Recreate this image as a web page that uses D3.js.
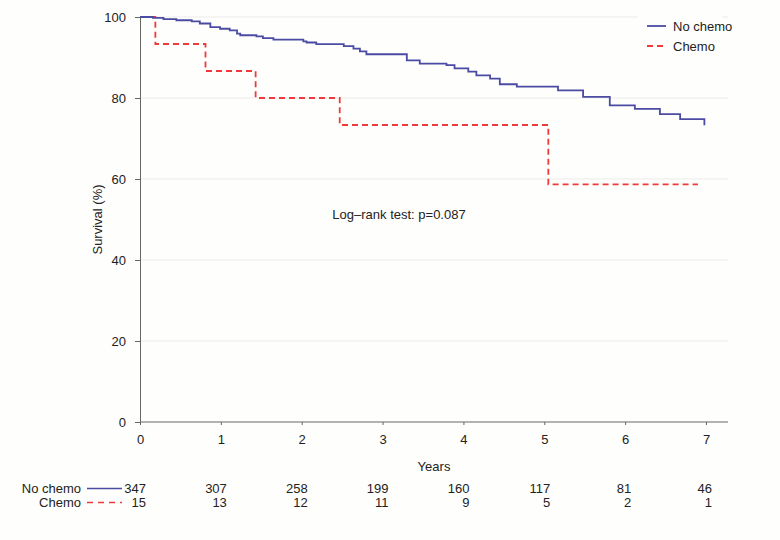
<!DOCTYPE html>
<html>
<head>
<meta charset="utf-8">
<script src="https://cdn.jsdelivr.net/npm/d3@7"></script>
<style>
  html, body { margin: 0; padding: 0; background: #fefefc; }
  svg { display: block; font-family: "Liberation Sans", Arial, Helvetica, sans-serif; }
</style>
</head>
<body>
<svg id="chart" width="780" height="540"></svg>
<script>
// ---- Data ----
const yTicks = [0, 20, 40, 60, 80, 100];
const xTicks = [0, 1, 2, 3, 4, 5, 6, 7];
const groups = ["No chemo", "Chemo"];

const noChemoTimes = [0, 0.16, 0.29, 0.45, 0.64, 0.74, 0.87, 0.99, 1.11, 1.20, 1.24, 1.44, 1.52, 1.65, 2.02, 2.06, 2.18, 2.52, 2.64, 2.72, 2.80, 3.30, 3.46, 3.79, 3.89, 4.06, 4.16, 4.33, 4.45, 4.66, 5.17, 5.48, 5.81, 6.12, 6.43, 6.68, 6.98];
const noChemoSurv  = [100, 99.8, 99.5, 99.2, 98.9, 98.4, 97.5, 97.1, 96.7, 95.9, 95.5, 95.2, 94.8, 94.4, 94.0, 93.7, 93.3, 92.8, 92.2, 91.5, 90.8, 89.3, 88.5, 88.1, 87.3, 86.5, 85.6, 84.8, 83.4, 82.8, 81.9, 80.3, 78.2, 77.3, 76.0, 74.8, 73.3];

const chemoTimes = [0, 0.19, 0.81, 1.43, 2.47, 5.05, 6.90];
const chemoSurv  = [100, 93.33, 86.67, 80, 73.33, 58.67, 58.67];

const atRiskNoChemo = [347, 307, 258, 199, 160, 117, 81, 46];
const atRiskChemo   = [15, 13, 12, 11, 9, 5, 2, 1];

const pText = "Log\u2013rank test: p=0.087";

// ---- Layout ----
const svg = d3.select("#chart");
const blue = "#4b4ba3";
const red = "#ee3a3a";
const x = d3.scaleLinear().domain([0, 7]).range([140, 706]);
const xAxisEnd = 728;
const y = d3.scaleLinear().domain([0, 100]).range([422, 17]);

// gridlines
svg.append("g").selectAll("line").data(yTicks.filter(d => d > 0)).join("line")
  .attr("x1", x(0)).attr("x2", xAxisEnd)
  .attr("y1", d => y(d)).attr("y2", d => y(d))
  .attr("stroke", "#ebebe8").attr("stroke-width", 1);

// y axis
const yAxis = svg.append("g").attr("transform", `translate(${x(0)},0)`)
  .call(d3.axisLeft(y).tickValues(yTicks).tickFormat(d3.format("d")).tickSize(5).tickPadding(9));
yAxis.select(".domain").attr("stroke", "#666");
yAxis.selectAll(".tick line").attr("stroke", "#666");
yAxis.selectAll("text").attr("font-size", 13).attr("fill", "#222")
  .attr("font-family", "Liberation Sans, Arial, sans-serif");

// x axis
const xAxisG = svg.append("g").attr("transform", `translate(0,${y(0)})`)
  .call(d3.axisBottom(x).tickValues(xTicks).tickFormat(d3.format("d")).tickSize(3).tickPadding(10).tickSizeOuter(0));
xAxisG.select(".domain").attr("d", `M${x(0)},0H${xAxisEnd}`).attr("stroke", "#666");
xAxisG.selectAll(".tick line").attr("stroke", "#666");
xAxisG.selectAll("text").attr("font-size", 13).attr("fill", "#222")
  .attr("font-family", "Liberation Sans, Arial, sans-serif");

// axis titles
svg.append("text").attr("x", (x(0) + xAxisEnd) / 2).attr("y", 471)
  .attr("text-anchor", "middle").attr("font-size", 13).attr("fill", "#222").text("Years");
svg.append("text")
  .attr("transform", `translate(102,${(y(0) + y(100)) / 2}) rotate(-90)`)
  .attr("text-anchor", "middle").attr("font-size", 13).attr("fill", "#222").text("Survival (%)");

// curves
const line = d3.line().x(d => x(d[0])).y(d => y(d[1])).curve(d3.curveStepAfter);
const noChemo = noChemoTimes.map((t, i) => [t, noChemoSurv[i]]);
const chemo = chemoTimes.map((t, i) => [t, chemoSurv[i]]);

svg.append("path").datum(chemo).attr("d", line)
  .attr("fill", "none").attr("stroke", red).attr("stroke-width", 1.8)
  .attr("stroke-dasharray", "6,4");
svg.append("path").datum(noChemo).attr("d", line)
  .attr("fill", "none").attr("stroke", blue).attr("stroke-width", 1.8);

// annotation
svg.append("text").attr("x", 399).attr("y", 219).attr("text-anchor", "middle")
  .attr("font-size", 13).attr("fill", "#222").text(pText);

// legend
const lg = svg.append("g");
lg.append("rect").attr("x", 638).attr("y", 6).attr("width", 84).attr("height", 56).attr("fill", "#fefefc");
const legendItems = [
  { name: groups[0], color: blue, dash: null, yy: 26 },
  { name: groups[1], color: red, dash: "6,4", yy: 46 }
];
legendItems.forEach(it => {
  lg.append("line").attr("x1", 647).attr("x2", 666).attr("y1", it.yy).attr("y2", it.yy)
    .attr("stroke", it.color).attr("stroke-width", 1.8)
    .attr("stroke-dasharray", it.dash);
  lg.append("text").attr("x", 673).attr("y", it.yy + 5).attr("font-size", 13)
    .attr("fill", "#222").text(it.name);
});

// at-risk table
const rows = [
  { name: groups[0], vals: atRiskNoChemo, color: blue, dash: null, yy: 493 },
  { name: groups[1], vals: atRiskChemo, color: red, dash: "6,5", yy: 507 }
];
rows.forEach(r => {
  svg.append("text").attr("x", 81).attr("y", r.yy).attr("text-anchor", "end")
    .attr("font-size", 13).attr("fill", "#222").text(r.name);
  svg.append("line").attr("x1", 87).attr("x2", 122).attr("y1", r.yy - 4.5).attr("y2", r.yy - 4.5)
    .attr("stroke", r.color).attr("stroke-width", 1.6).attr("stroke-dasharray", r.dash);
  svg.append("g").selectAll("text").data(r.vals).join("text")
    .attr("x", (d, i) => x(xTicks[i]) + 6).attr("y", r.yy)
    .attr("text-anchor", "end").attr("font-size", 13).attr("fill", "#222")
    .text(d => d);
});
</script>
</body>
</html>
